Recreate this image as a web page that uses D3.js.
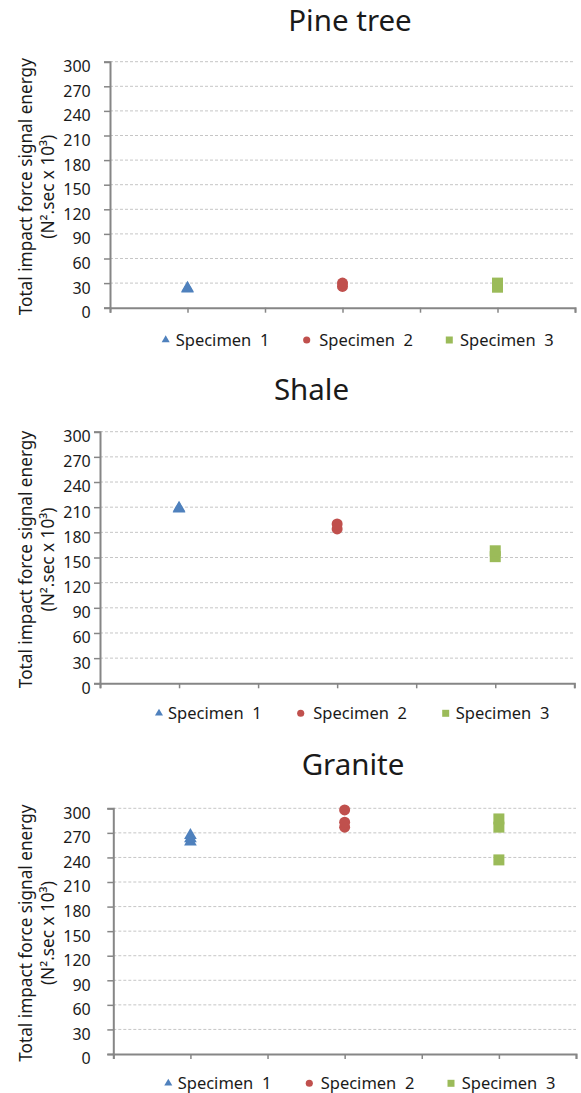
<!DOCTYPE html>
<html><head><meta charset="utf-8">
<script src="https://cdn.jsdelivr.net/npm/d3@7"></script>
<style>
html,body{margin:0;padding:0;background:#fff;}
svg{display:block;}
text{font-family:"Noto Sans","Open Sans",sans-serif;fill:#1a1a1a;}
</style></head>
<body><svg id="chart" width="581" height="1093"></svg>
<script>
// ---- data ----
const materials = ["Pine tree", "Shale", "Granite"];
const specimens = ["Specimen 1", "Specimen 2", "Specimen 3"];
const pineValues = [[23, 24], [26, 30], [25, 30]];
const shaleValues = [[208, 209], [184, 190], [151, 158]];
const graniteValues = [[259, 263, 267], [277, 283, 298], [237, 277, 287]];
const yTicks = [0, 30, 60, 90, 120, 150, 180, 210, 240, 270, 300];
const xTicks = [0.5, 1, 1.5, 2, 2.5, 3, 3.5];
const seriesColors = ["#4F81BD", "#C0504D", "#9BBB59"];
const yTitle1 = "Total impact force signal energy";
const yTitle2 = "(N\u00B2.sec x 10\u00B3)";

const values = [pineValues, shaleValues, graniteValues];

// ---- layout (per panel) ----
const panels = [
  {left:110, right:575, top:61.7, bottom:307.7, titleX:350, titleY:31, legendY:340,
   legend:[[165.7,175.7],[306.7,319.3],[449.3,460]]},
  {left:100, right:574.3, top:431.7, bottom:683.3, titleX:311.5, titleY:400, legendY:713.3,
   legend:[[159,168],[300.7,313.3],[445.7,455.7]]},
  {left:113.3, right:576, top:808.3, bottom:1054, titleX:353, titleY:775, legendY:1083.3,
   legend:[[168.3,177.7],[309.3,320.7],[451,461.7]]}
];
const labelRight = 90.7;

const svg = d3.select("#chart");
const symbolTypes = [d3.symbolTriangle, d3.symbolCircle, d3.symbolSquare];
const symbolSizes = [70, 95, 121];
const legendSizes = [28, 40, 49];

panels.forEach((p, pi) => {
  const g = svg.append("g");
  const x = d3.scaleLinear().domain([0.5, 3.5]).range([p.left, p.right]);
  const y = d3.scaleLinear().domain([0, 300]).range([p.bottom, p.top]);

  // title
  g.append("text").attr("x", p.titleX).attr("y", p.titleY)
    .attr("text-anchor", "middle").style("font-size", "29.5px").text(materials[pi]);

  // gridlines
  g.append("g").selectAll("line").data(yTicks.filter(t => t > 0)).join("line")
    .attr("x1", p.left).attr("x2", p.right)
    .attr("y1", d => y(d)).attr("y2", d => y(d))
    .attr("stroke", "#c6c6c6").attr("stroke-width", 1).attr("stroke-dasharray", "3,2");

  // y axis
  const ya = g.append("g").attr("transform", `translate(${p.left},0)`)
    .call(d3.axisLeft(y).tickValues(yTicks).tickSize(6));
  ya.select(".domain").attr("stroke", "#868686").attr("stroke-width", 2);
  ya.selectAll(".tick line").attr("stroke", "#868686").attr("stroke-width", 1.5);
  ya.selectAll(".tick text").style("font-size", "16px").style("font-family", '"Noto Sans",sans-serif')
    .attr("fill", "#1a1a1a").attr("text-anchor", "end")
    .attr("x", labelRight - p.left).attr("dy", "0.62em");

  // x axis
  const xa = g.append("g").attr("transform", `translate(0,${p.bottom})`)
    .call(d3.axisBottom(x).tickValues(xTicks).tickSize(5).tickFormat(""));
  xa.select(".domain").attr("stroke", "#868686").attr("stroke-width", 2);
  xa.selectAll(".tick line").attr("stroke", "#868686").attr("stroke-width", 1.5);

  // y axis title
  const cy = (p.top + p.bottom) / 2 + 2;
  g.append("text").attr("transform", `translate(31.5,${cy}) rotate(-90)`)
    .attr("text-anchor", "middle").style("font-size", "17.2px").text(yTitle1);
  g.append("text").attr("transform", `translate(53.5,${cy}) rotate(-90)`)
    .attr("text-anchor", "middle").style("font-size", "17.2px").text(yTitle2);

  // points
  values[pi].forEach((vals, si) => {
    g.append("g").selectAll("path").data(vals).join("path")
      .attr("d", d3.symbol().type(symbolTypes[si]).size(symbolSizes[si]))
      .attr("transform", d => `translate(${x(si + 1)},${y(d)})`)
      .attr("fill", seriesColors[si]);
  });

  // legend
  specimens.forEach((s, si) => {
    const [mx, tx] = p.legend[si];
    g.append("path")
      .attr("d", d3.symbol().type(symbolTypes[si]).size(legendSizes[si]))
      .attr("transform", `translate(${mx},${p.legendY})`)
      .attr("fill", seriesColors[si]);
    g.append("text").attr("x", tx).attr("y", p.legendY).attr("dy", "0.35em")
      .style("font-size", "16.5px").style("white-space", "pre")
      .text(s.replace(" ", "  "));
  });
});
</script></body></html>
